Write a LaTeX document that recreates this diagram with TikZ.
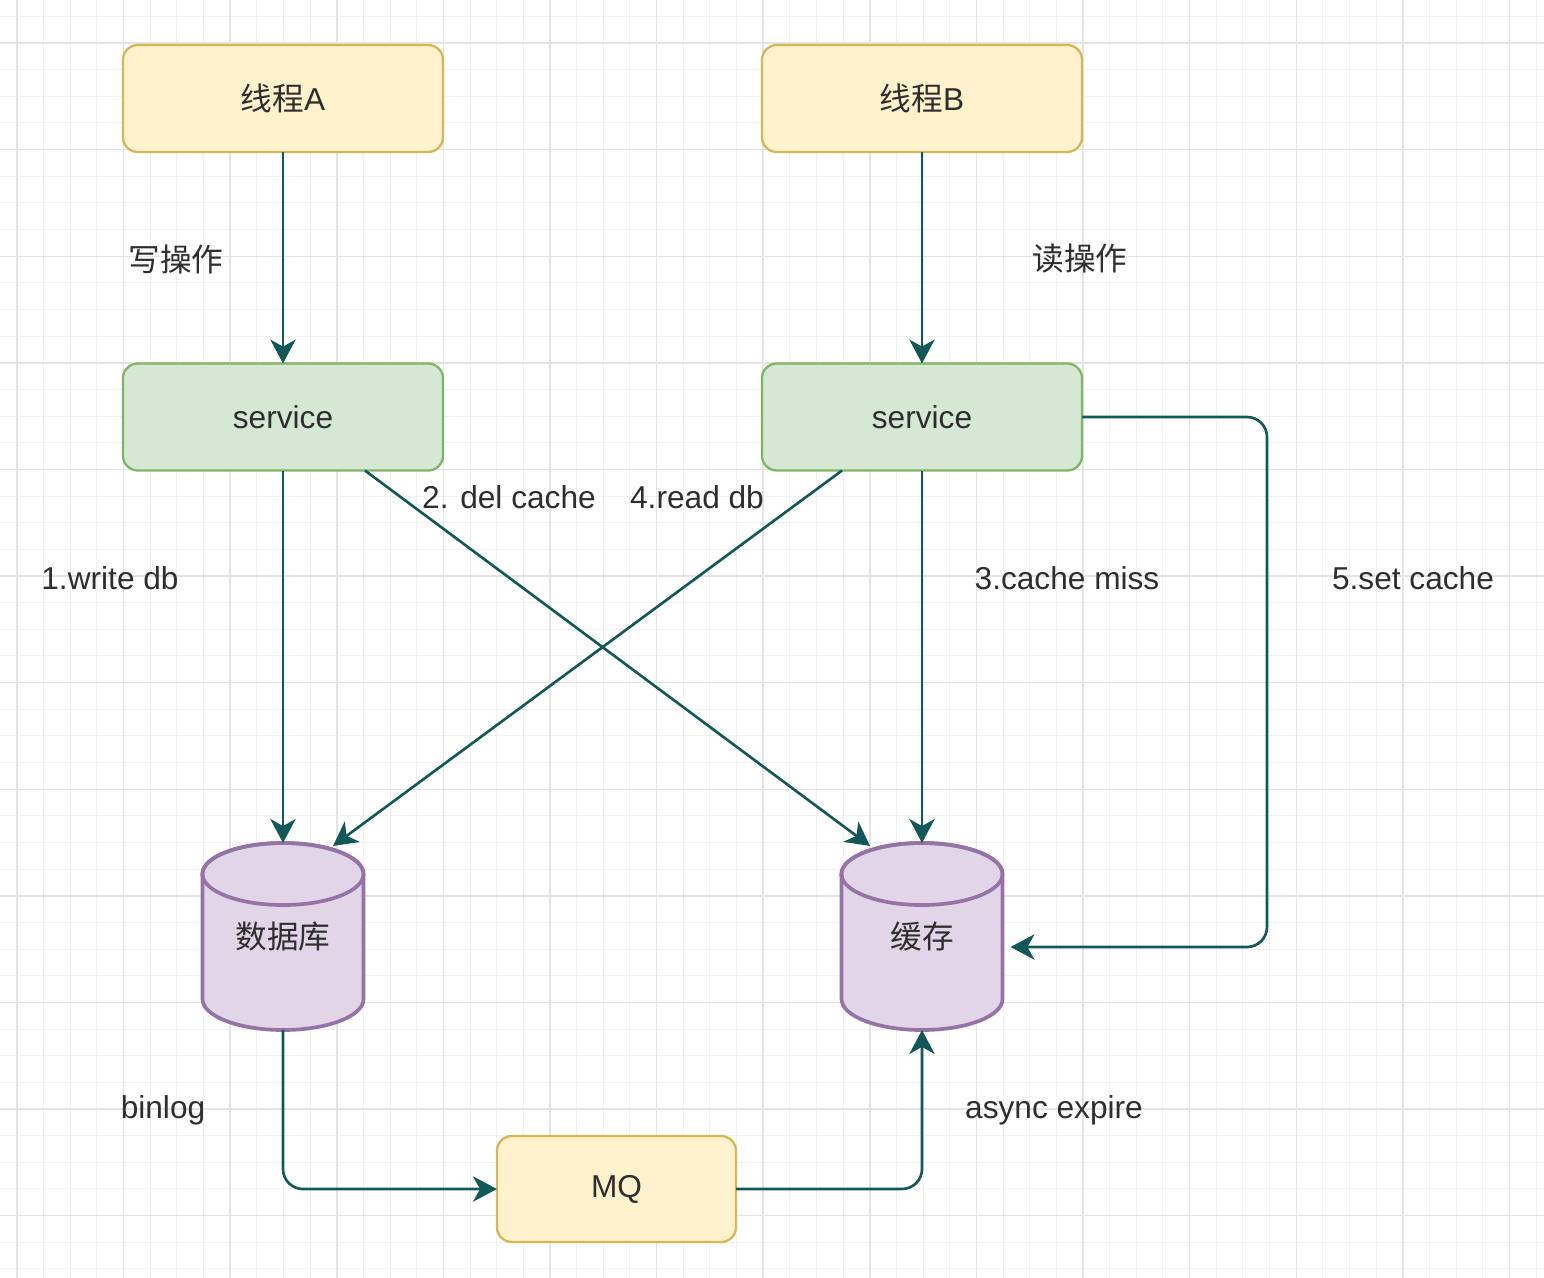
\documentclass[tikz,border=0pt]{standalone}
\usepackage{fontspec}
\setmainfont{Liberation Sans}
\newfontfamily\cjk{Noto Sans CJK SC}
\usetikzlibrary{arrows.meta,calc}
\definecolor{ylfill}{HTML}{FFF2CC}
\definecolor{yldraw}{HTML}{D6B656}
\definecolor{grfill}{HTML}{D5E8D4}
\definecolor{grdraw}{HTML}{82B366}
\definecolor{pufill}{HTML}{E1D5E7}
\definecolor{pudraw}{HTML}{9673A6}
\definecolor{conncol}{HTML}{135858}
\definecolor{txtcol}{HTML}{2E2E2E}
\definecolor{gmin}{HTML}{F1F1F1}
\definecolor{gmaj}{HTML}{E4E4E4}
\begin{document}
\begin{tikzpicture}[x=0.01cm,y=-0.01cm,
  basefont/.style={font=\fontsize{9}{11}\selectfont, text=txtcol},
  ybox/.style={basefont, draw=yldraw, fill=ylfill, line width=0.65pt, rounded corners=0.15cm,
    minimum width=3.2cm, minimum height=1.07cm, inner sep=0pt, outer sep=0pt},
  mqbox/.style={ybox, minimum width=2.39cm, minimum height=1.06cm},
  gbox/.style={basefont, draw=grdraw, fill=grfill, line width=0.65pt, rounded corners=0.15cm,
    minimum width=3.2cm, minimum height=1.07cm, inner sep=0pt, outer sep=0pt},
  cylarea/.style={basefont, minimum width=1.61cm, minimum height=1.87cm, inner sep=0pt, outer sep=0pt},
  cylfill/.style={fill=pufill, draw=pudraw, line width=1.05pt},
  lbl/.style={basefont, inner sep=0pt},
  conn/.style={draw=conncol, line width=0.75pt, rounded corners=0.2cm,
    -{Stealth[length=6.8pt,width=7.2pt,inset=2pt]}},
  gridminor/.style={draw=gmin, line width=0.3pt},
  gridmajor/.style={draw=gmaj, line width=0.4pt}]
\useasboundingbox (0,0) rectangle (1544,1278);
\fill[white] (0,0) rectangle (1544,1278);
\begin{scope}
\clip (0,0) rectangle (1544,1278);
\foreach \i in {0,...,58} \draw[gridminor] ({-9.65+26.65*\i},0) -- ({-9.65+26.65*\i},1278);
\foreach \i in {0,...,49} \draw[gridminor] (0,{-10.3+26.65*\i}) -- (1544,{-10.3+26.65*\i});
\foreach \i in {0,...,14} \draw[gridmajor] ({17+106.6*\i},0) -- ({17+106.6*\i},1278);
\foreach \i in {0,...,12} \draw[gridmajor] (0,{43+106.6*\i}) -- (1544,{43+106.6*\i});
\end{scope}

% boxes
\node[ybox] (tA) at (283,98.5) {{\cjk 线程}A};
\node[ybox] (tB) at (922,98.5) {{\cjk 线程}B};
\node[gbox] (sA) at (283,417) {service};
\node[gbox] (sB) at (922,417) {service};
\node[mqbox] (mq) at (616.5,1189) {MQ};

% cylinders
\foreach \L in {202.5,841.5} {
  \filldraw[cylfill] (\L,874) -- (\L,999)
    arc[start angle=180,end angle=360,x radius=0.805cm,y radius=0.31cm]
    -- ({\L+161},874)
    arc[start angle=0,end angle=180,x radius=0.805cm,y radius=0.31cm] -- cycle;
  \draw[cylfill, fill=none] ({\L+80.5},874) ellipse[x radius=0.805cm,y radius=0.31cm];
}
\node[cylarea] (db) at (283,936.5) {\cjk 数据库};
\node[cylarea] (cache) at (922,936.5) {\cjk 缓存};

% labels
\node[lbl] (l1) at (176,259) {\cjk 写操作};
\node[lbl] (l2) at (1080,259) {\cjk 读操作};
\node[lbl] (l3) at (110,578) {1.write db};
\node[lbl] (l4) at (509,497) {2. del cache};
\node[lbl] (l5) at (697,497) {4.read db};
\node[lbl] (l6) at (1067,578) {3.cache miss};
\node[lbl] (l7) at (1413,578) {5.set cache};
\node[lbl] (l8) at (163,1110) {binlog};
\node[lbl] (l9) at (1054,1110) {async expire};

% connectors
\coordinate (c1) at (1267,947);
\draw[conn] (tA.south) -- (sA.north);
\draw[conn] (tB.south) -- (sB.north);
\draw[conn] (sA.south) -- (db.north);
\draw[conn] (sB.south) -- (cache.north);
\draw[conn] ($(sA.south)+(82,0)$) -- ($(cache.north)+(-52,3)$);
\draw[conn] ($(sB.south)+(-80,0)$) -- ($(db.north)+(50,3)$);
\draw[conn] (sB.east) -| (c1) -- ($(cache.east |- c1)+(8,0)$);
\draw[conn] (db.south) |- (mq.west);
\draw[conn] (mq.east) -| (cache.south);
\end{tikzpicture}
\end{document}
